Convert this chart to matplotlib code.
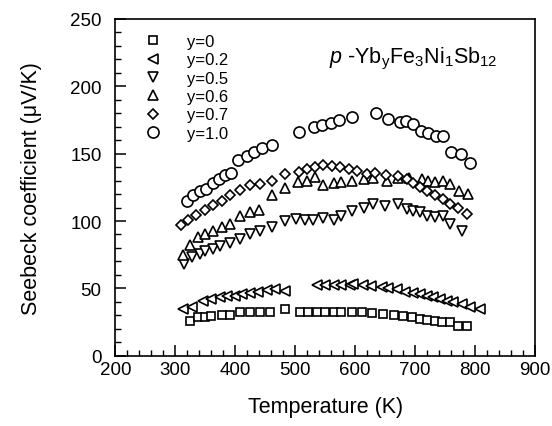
import matplotlib
matplotlib.use("Agg")
import matplotlib.pyplot as plt
from matplotlib.ticker import MultipleLocator

plt.rcParams["font.family"] = ["Liberation Sans", "DejaVu Sans"]
plt.rcParams["mathtext.fontset"] = "custom"
plt.rcParams["mathtext.rm"] = "Liberation Sans"
plt.rcParams["mathtext.it"] = "Liberation Sans:italic"

# y = 0 (squares)
T_y00 = [324, 338, 349, 360, 377, 391, 408, 424, 441, 458, 483, 508, 522, 536, 550,
         564, 577, 594, 611, 628, 647, 664, 680, 694, 708, 719, 733, 744, 758, 772, 786]
S_y00 = [26, 28.5, 28.5, 29.2, 30.2, 30.2, 32.2, 32.7, 32.7, 32.7, 34.7, 32.7, 32.7, 32.7, 32.7,
         32.7, 32.7, 32.7, 32.2, 31.7, 31, 30.2, 29.2, 28.5, 27.2, 26.7, 26, 25.2, 24.8, 22.3, 21.8]

# y = 0.2 (left triangles)
T_y02 = [313, 327, 346, 360, 374, 386, 399, 411, 424, 438, 452, 466, 483, 536, 550, 564,
         577, 591, 597, 613, 627, 644, 655, 669, 683, 697, 708, 719, 730, 742, 753, 764,
         778, 792, 808]
S_y02 = [34.7, 35.9, 40.8, 42.1, 43.4, 44.1, 44.5, 45.8, 46.5, 47.5, 49, 49.5, 48.3, 52.5, 52.5, 52.5,
         52.5, 52.5, 53.2, 52.5, 52, 50.8, 50, 49.5, 47.5, 46.5, 45.8, 44.5, 43.4, 42.1, 40.8, 39.6,
         38.4, 35.9, 34.7]

# y = 0.5 (down triangles)
T_y05 = [314, 327, 341, 349, 362, 374, 391, 408, 424, 441, 461, 483, 502, 516, 530, 547,
         564, 577, 594, 614, 630, 650, 672, 686, 697, 708, 719, 733, 747, 758, 778]
S_y05 = [68.1, 73, 75.5, 78, 79.2, 81.7, 83.7, 86.6, 90.3, 92.8, 95.3, 100.2, 101.5, 101, 101, 102,
         101, 103.5, 107.6, 109.4, 112.6, 110.9, 112.6, 108.9, 107.6, 106.9, 103.9, 102.7, 103.9, 97.8, 92.8]

# y = 0.6 (up triangles)
T_y06 = [313, 325, 338, 349, 363, 377, 391, 408, 424, 440, 461, 483, 505, 519, 533, 547,
         564, 577, 594, 614, 630, 653, 672, 690, 711, 722, 733, 747, 758, 774, 789]
S_y06 = [74.8, 82.2, 87.9, 90.3, 92.8, 95.3, 97.8, 103.9, 106.9, 108.4, 119.3, 124.3, 128.7, 129.9, 132.4, 126.7,
         128.2, 128.7, 129.9, 131.2, 131.7, 129.9, 132, 132, 131.2, 129.9, 128.7, 129.9, 127.5, 122.5, 120]

# y = 0.7 (diamonds)
T_y07 = [310, 321, 335, 349, 363, 377, 391, 408, 424, 441, 461, 483, 507, 519, 533, 547,
         561, 575, 590, 603, 619, 633, 652, 672, 686, 697, 708, 719, 733, 746, 758, 772, 787]
S_y07 = [97, 101, 104.5, 108, 112, 115, 119, 123, 126.5, 127.5, 130, 135, 136.5, 138.5, 140, 141.5,
         141, 140, 138.5, 137, 135, 136, 134, 133.5, 131, 128.5, 125, 122.5, 119, 116, 112.5, 109.5, 105]

# y = 1.0 (circles)
T_y10 = [320, 330, 341, 351, 363, 373, 383, 393, 405, 419, 431, 444, 461, 507, 531, 545,
         559, 573, 595, 634, 654, 674, 684, 697, 709, 722, 735, 747, 760, 777, 792]
S_y10 = [115, 119, 122, 124, 128, 131, 134, 136, 145, 148, 151, 154, 156.5, 166, 170, 171,
         173, 175, 177, 180.5, 176, 173.5, 174.5, 172, 167, 165.5, 163, 163, 151, 150, 143]

series = [
    ("y=0", T_y00, S_y00, "s", 5.5),
    ("y=0.2", T_y02, S_y02, "<", 6.5),
    ("y=0.5", T_y05, S_y05, "v", 6.5),
    ("y=0.6", T_y06, S_y06, "^", 6.5),
    ("y=0.7", T_y07, S_y07, "D", 5.5),
    ("y=1.0", T_y10, S_y10, "o", 8),
]

fig = plt.figure(figsize=(5.52, 4.27), dpi=100)
ax = fig.add_axes([0.2092, 0.1646, 0.76, 0.7886])

for label, t, s, m, ms in series:
    ax.plot(t, s, linestyle="none", marker=m, markersize=ms, markerfacecolor="white",
            markeredgecolor="black", markeredgewidth=1.2, label=label)

ax.set_xlim(200, 900)
ax.set_ylim(0, 250)
ax.xaxis.set_major_locator(MultipleLocator(100))
ax.xaxis.set_minor_locator(MultipleLocator(20))
ax.yaxis.set_major_locator(MultipleLocator(50))
ax.yaxis.set_minor_locator(MultipleLocator(10))
ax.tick_params(which="both", direction="in", top=False, right=False, labelsize=13.5)
ax.tick_params(which="major", length=8, width=1.1)
ax.tick_params(which="minor", length=4, width=1.0)
ax.tick_params(axis="y", which="major", pad=10)
ax.tick_params(axis="x", which="major", pad=4)
for sp in ax.spines.values():
    sp.set_linewidth(1.2)

ax.set_xlabel("Temperature (K)", fontsize=15.5, labelpad=13)
ax.set_ylabel("Seebeck coefficient (\u03bcV/K)", fontsize=15.5, labelpad=20)

ax.text(0.51, 0.885, r"$p$ -Yb$_\mathrm{y}$Fe$_3$Ni$_1$Sb$_{12}$", transform=ax.transAxes,
        fontsize=15.5, ha="left", va="center")

ax.legend(loc="upper left", bbox_to_anchor=(0.045, 0.985), frameon=False, fontsize=12,
          labelspacing=0.2, handlelength=1.0, handletextpad=1.55, borderaxespad=0.2)

fig.savefig("out.png", dpi=100)
